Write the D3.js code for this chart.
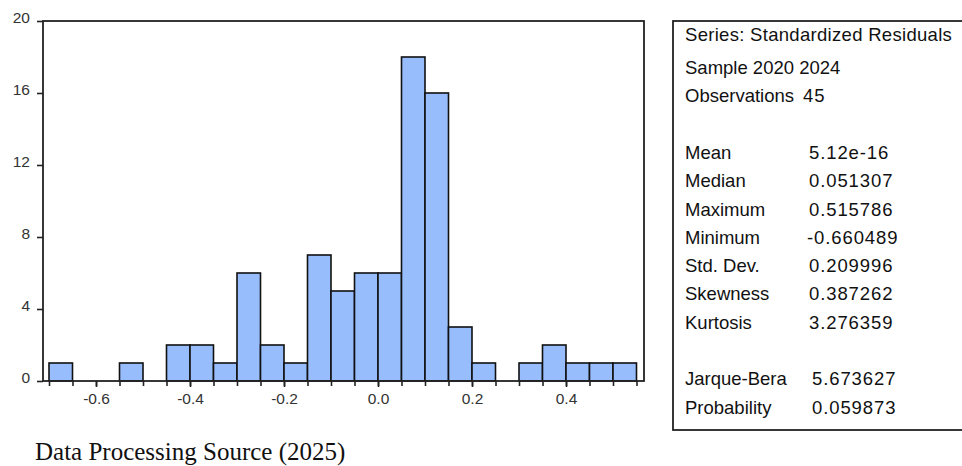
<!DOCTYPE html>
<html>
<head>
<meta charset="utf-8">
<script src="https://cdn.jsdelivr.net/npm/d3@7"></script>
<style>
  html, body { margin: 0; padding: 0; background: #fff; }
  svg { display: block; }
</style>
</head>
<body>
<svg id="chart" width="962" height="466"></svg>
<script>
// Histogram bins of the standardized residuals (lower edge) and counts
const binStarts = [-0.70, -0.65, -0.60, -0.55, -0.50, -0.45, -0.40, -0.35, -0.30, -0.25,
                   -0.20, -0.15, -0.10, -0.05, 0.00, 0.05, 0.10, 0.15, 0.20, 0.25,
                   0.30, 0.35, 0.40, 0.45, 0.50];
const binWidth = 0.05;
const counts = [1, 0, 0, 1, 0, 2, 2, 1, 6, 2,
                1, 7, 5, 6, 6, 18, 16, 3, 1, 0,
                1, 2, 1, 1, 1];

const yTicks = [0, 4, 8, 12, 16, 20];
const xLabelTicks = [-0.6, -0.4, -0.2, 0.0, 0.2, 0.4];

// Summary statistics panel
const headerLines = ["Series: Standardized Residuals", "Sample 2020 2024", "Observations"];
const observations = "45";
const statLabels = ["Mean", "Median", "Maximum", "Minimum", "Std. Dev.", "Skewness", "Kurtosis"];
const statValues = ["5.12e-16", "0.051307", "0.515786", "-0.660489", "0.209996", "0.387262", "3.276359"];
const testLabels = ["Jarque-Bera", "Probability"];
const testValues = ["5.673627", "0.059873"];

const caption = "Data Processing Source (2025)";

const svg = d3.select("#chart");

// Plot frame
const frame = { left: 43, right: 644, top: 21, bottom: 381 };

const x = d3.scaleLinear().domain([-0.7, 0.55]).range([49, 636.5]);
const y = d3.scaleLinear().domain([0, 20]).range([frame.bottom, frame.top]);

const bins = binStarts.map((s, i) => ({ x0: s, x1: s + binWidth, n: counts[i] }));

// Bars
svg.append("g")
  .selectAll("rect")
  .data(bins.filter(d => d.n > 0))
  .join("rect")
  .attr("x", d => x(d.x0))
  .attr("y", d => y(d.n))
  .attr("width", d => x(d.x1) - x(d.x0))
  .attr("height", d => y(0) - y(d.n))
  .attr("fill", "#97bdfd")
  .attr("stroke", "#111")
  .attr("stroke-width", 1.6);

// Frame around the plot
svg.append("rect")
  .attr("x", frame.left)
  .attr("y", frame.top)
  .attr("width", frame.right - frame.left)
  .attr("height", frame.bottom - frame.top)
  .attr("fill", "none")
  .attr("stroke", "#222")
  .attr("stroke-width", 1.8);

// Y axis: ticks outside the left edge, labels sitting on the tick line
const yAxis = d3.axisLeft(y)
  .tickValues(yTicks)
  .tickSize(6)
  .tickPadding(7)
  .tickFormat(d3.format("d"));

const gy = svg.append("g")
  .attr("transform", `translate(${frame.left},0)`)
  .call(yAxis);
gy.select(".domain").remove();
gy.selectAll(".tick line").attr("stroke", "#222").attr("stroke-width", 1.6);
gy.selectAll(".tick text")
  .attr("dy", "0")
  .attr("y", 1)
  .attr("fill", "#333")
  .style("font-family", "'Liberation Sans', Arial, sans-serif")
  .style("font-size", "15.5px");

// X axis: a tick at every bin edge, labels every 0.2
const allEdges = binStarts.concat([binStarts[binStarts.length - 1] + binWidth]);
const gxMinor = svg.append("g")
  .attr("transform", `translate(0,${frame.bottom})`)
  .call(d3.axisBottom(x).tickValues(allEdges).tickSize(5).tickFormat(""));
gxMinor.select(".domain").remove();
gxMinor.selectAll(".tick line").attr("stroke", "#222").attr("stroke-width", 1.6);

const gx = svg.append("g")
  .attr("transform", `translate(0,${frame.bottom})`)
  .call(d3.axisBottom(x).tickValues(xLabelTicks).tickSize(6).tickPadding(6)
        .tickFormat(d3.format(".1f")));
gx.select(".domain").remove();
gx.selectAll(".tick line").attr("stroke", "#222").attr("stroke-width", 1.6);
gx.selectAll(".tick text")
  .attr("fill", "#333")
  .style("font-family", "'Liberation Sans', Arial, sans-serif")
  .style("font-size", "15.5px")
  .text(d => d3.format(".1f")(d).replace("−", "-"));

// Statistics panel
const panel = { left: 673, top: 21, bottom: 430, right: 975 };
svg.append("rect")
  .attr("x", panel.left)
  .attr("y", panel.top)
  .attr("width", panel.right - panel.left)
  .attr("height", panel.bottom - panel.top)
  .attr("fill", "none")
  .attr("stroke", "#222")
  .attr("stroke-width", 1.8);

const labelX = 685, valueX = 809;
const rowStep = 28.3;
const rowY = i => (i === 0 ? 41 : 74 + (i - 1) * rowStep);

const textStyle = sel => sel
  .attr("fill", "#111")
  .style("font-family", "'Liberation Sans', Arial, sans-serif")
  .style("font-size", "18.5px");

const valueStyle = sel => sel.call(textStyle).style("letter-spacing", "0.9px");

const pg = svg.append("g");

headerLines.forEach((t, i) => {
  pg.append("text").attr("x", labelX).attr("y", rowY(i)).text(t).call(textStyle)
    .style("letter-spacing", i === 0 ? "0.3px" : "0px");
});
pg.append("text").attr("x", 803).attr("y", rowY(2)).text(observations).call(valueStyle);

statLabels.forEach((t, i) => {
  pg.append("text").attr("x", labelX).attr("y", rowY(4 + i)).text(t).call(textStyle);
  pg.append("text").attr("x", valueX + (statValues[i].startsWith("-") ? -2 : 0))
    .attr("y", rowY(4 + i)).text(statValues[i]).call(valueStyle);
});

testLabels.forEach((t, i) => {
  pg.append("text").attr("x", labelX).attr("y", rowY(12 + i)).text(t).call(textStyle);
  pg.append("text").attr("x", valueX + 3).attr("y", rowY(12 + i)).text(testValues[i]).call(valueStyle);
});

// Source note
svg.append("text")
  .attr("x", 35)
  .attr("y", 460)
  .text(caption)
  .attr("fill", "#111")
  .style("font-family", "'Liberation Serif', 'Times New Roman', serif")
  .style("font-size", "25px");
</script>
</body>
</html>
